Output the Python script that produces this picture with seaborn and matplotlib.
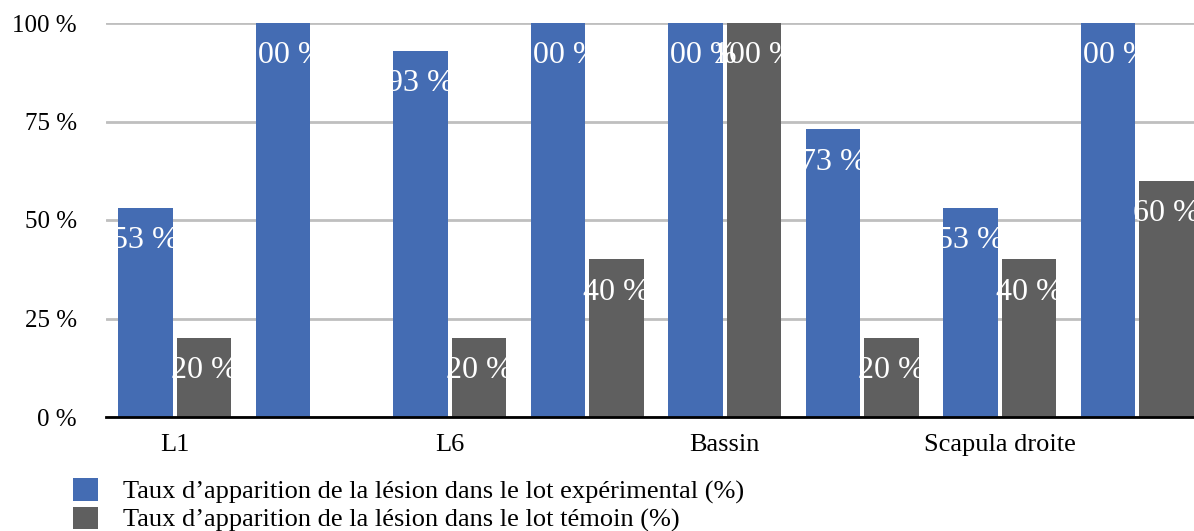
import numpy as np
import pandas as pd
import matplotlib
matplotlib.use("Agg")
import matplotlib.pyplot as plt
from matplotlib.patches import Patch
import seaborn as sns

# Lesion occurrence rates (%) per anatomical site
tick_labels = ["L1", "", "L6", "", "Bassin", "", "Scapula droite", ""]
taux_experimental = [53, 100, 93, 100, 100, 73, 53, 100]
taux_temoin = [20, np.nan, 20, 40, 100, 20, 40, 60]
series = [
    "Taux d\u2019apparition de la lésion dans le lot expérimental (%)",
    "Taux d\u2019apparition de la lésion dans le lot témoin (%)",
]
colors = ["#446CB3", "#5F5F5F"]
y_ticks = [0, 25, 50, 75, 100]

sns.set_style("white")
plt.rcParams["font.family"] = ["Liberation Serif", "DejaVu Serif"]
plt.rcParams["text.color"] = "black"
plt.rcParams["xtick.color"] = "black"
plt.rcParams["ytick.color"] = "black"

n = len(tick_labels)
df = pd.DataFrame({
    "site": list(range(n)) * 2,
    "serie": [series[0]] * n + [series[1]] * n,
    "taux": taux_experimental + taux_temoin,
})

fig = plt.figure(figsize=(11.94, 5.31), dpi=100)
ax = fig.add_axes([106 / 1194, (531 - 417) / 531, 1100 / 1194, 394 / 531])

sns.barplot(
    data=df, x="site", y="taux", hue="serie", hue_order=series,
    palette=colors, width=0.85, gap=0.06, errorbar=None,
    saturation=1, legend=False, ax=ax, zorder=2,
    linewidth=0, edgecolor="none",
)

ax.set_xlim(-0.5, n - 0.5)
ax.set_ylim(0, 100)
ax.set_axisbelow(True)
ax.yaxis.grid(True, color="#BFBFBF", linewidth=2)
ax.xaxis.grid(False)
ax.set_yticks(y_ticks)
ax.set_yticklabels([f"{t} %" for t in y_ticks], fontsize=18, color="black")
ax.set_xticks(range(n))
ax.set_xticklabels(tick_labels, fontsize=19, color="black")
ax.tick_params(axis="y", length=0, pad=21)
ax.tick_params(axis="x", length=0, pad=12)
ax.set_xlabel("")
ax.set_ylabel("")
for s in ["top", "right", "left"]:
    ax.spines[s].set_visible(False)
ax.spines["bottom"].set_color("black")
ax.spines["bottom"].set_linewidth(2)
ax.spines["bottom"].set_zorder(3)

# White value labels just inside the top of each bar
for cont in ax.containers:
    ax.bar_label(cont, fmt="{:.0f} %", padding=-34, color="white",
                 fontsize=23, zorder=4)

handles = [Patch(facecolor=c, edgecolor="none") for c in colors]
fig.legend(
    handles, series, loc="upper left",
    bbox_to_anchor=(73 / 1194, 1 - 478 / 531), frameon=False,
    fontsize=19, handlelength=0.95, handleheight=0.95, handletextpad=0.95,
    labelspacing=0.1, borderpad=0, borderaxespad=0, labelcolor="black",
)

fig.savefig("out.png", dpi=100)
